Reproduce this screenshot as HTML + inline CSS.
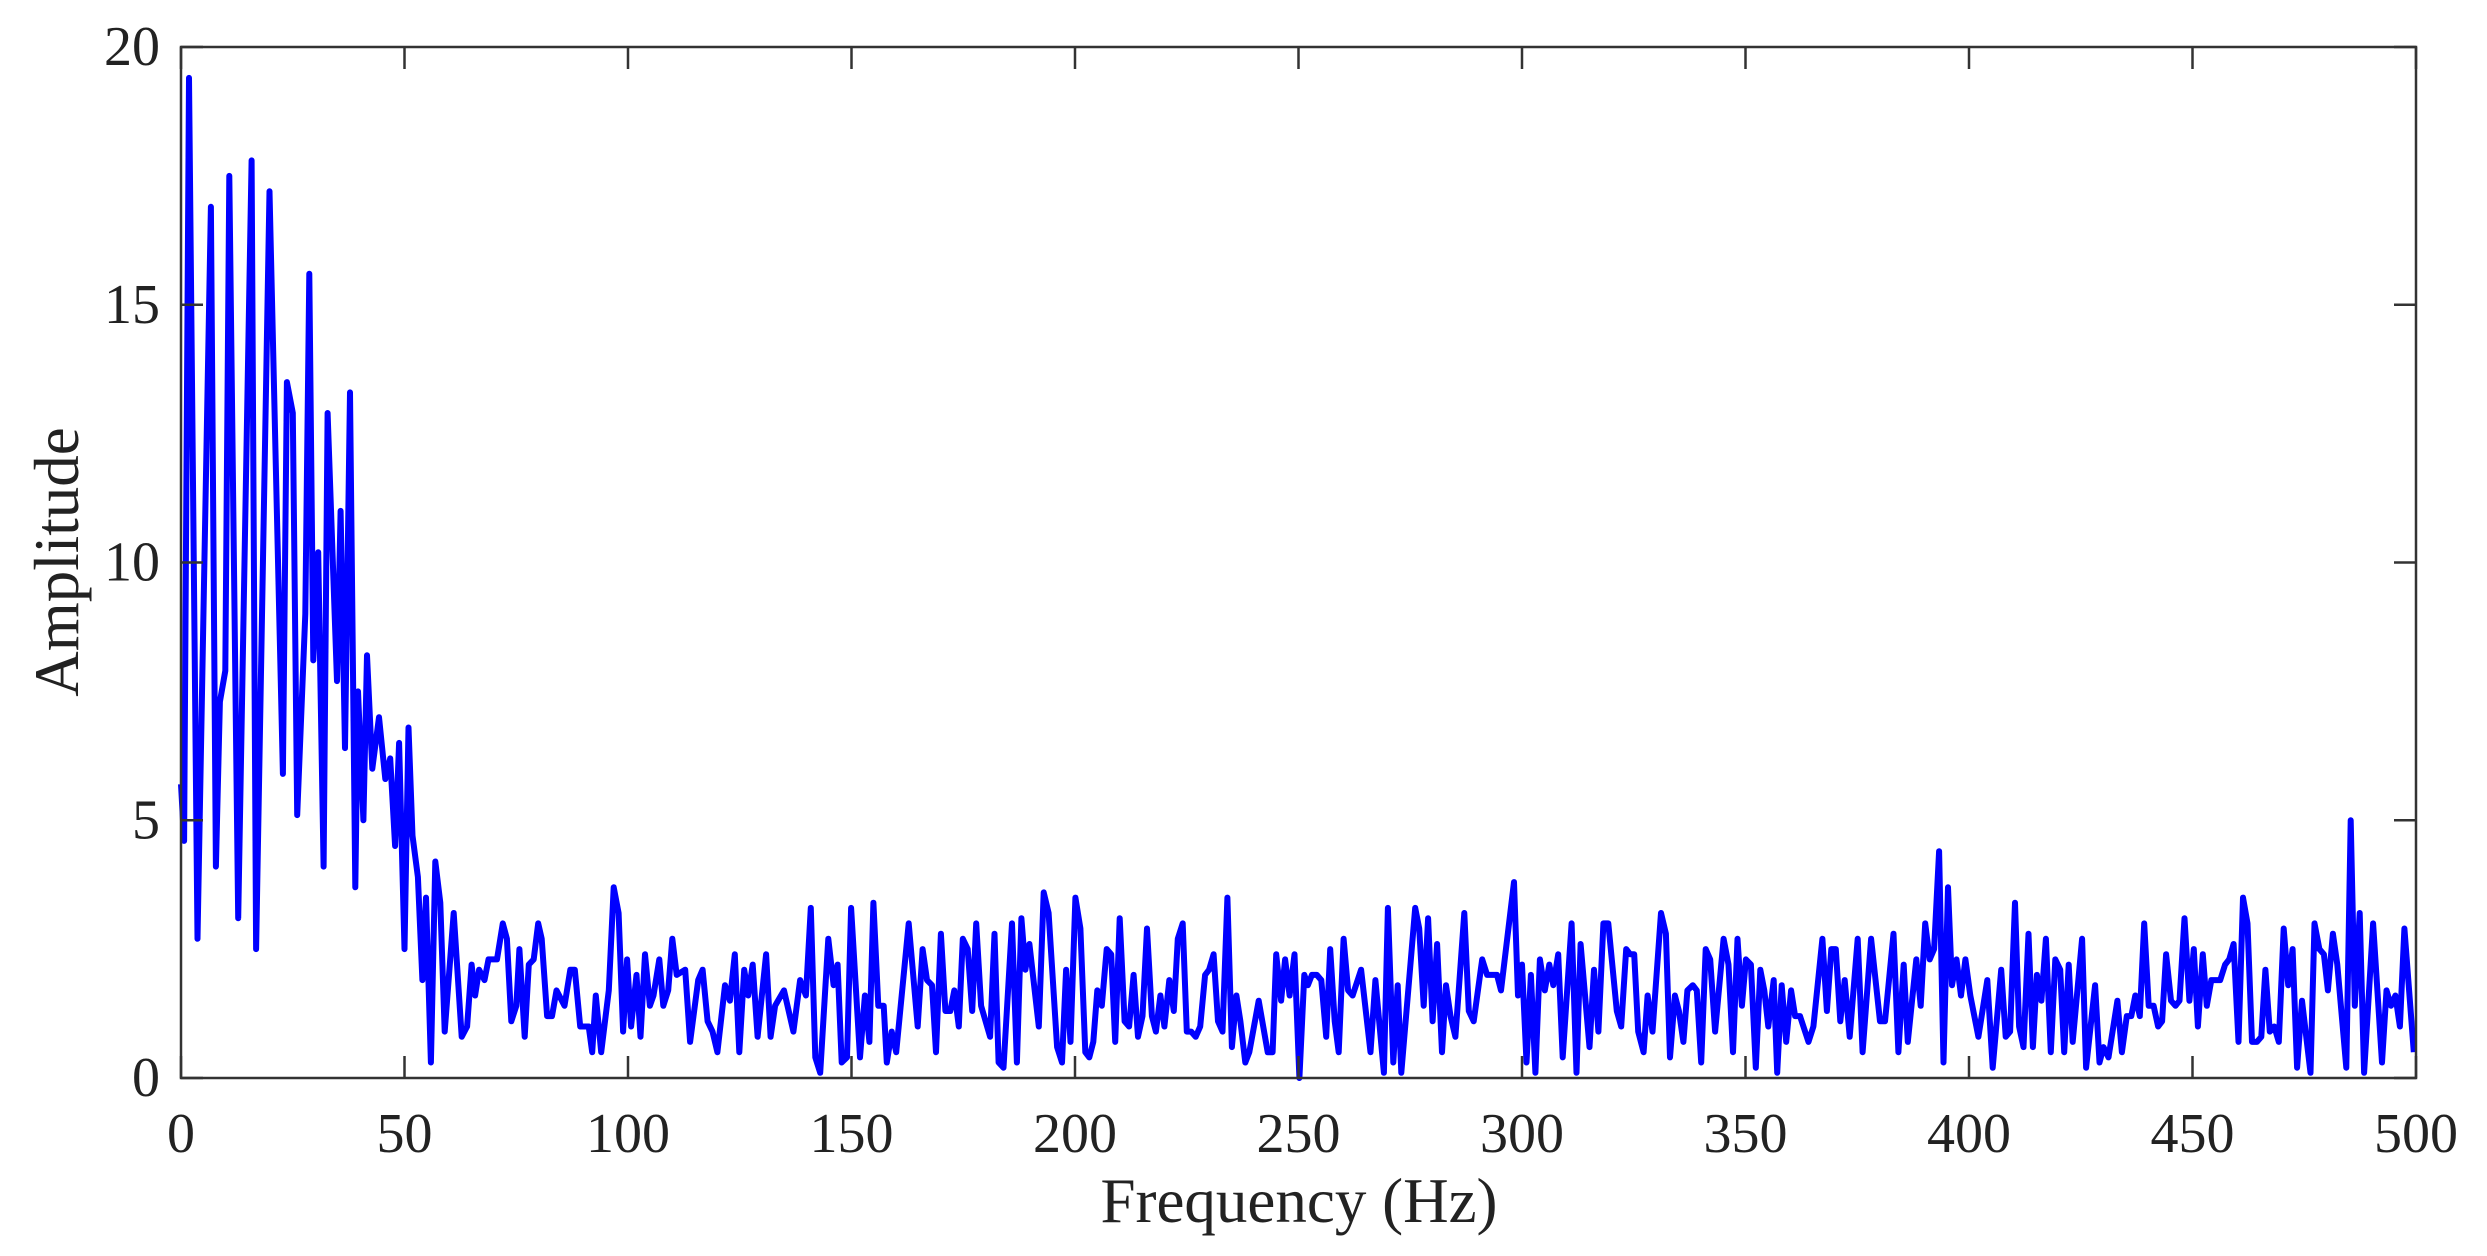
<!DOCTYPE html>
<html><head><meta charset="utf-8"><style>
html,body{margin:0;padding:0;background:#fff;}
svg{display:block;font-family:"Liberation Serif",serif;}
</style></head><body>
<svg id="chart" width="2487" height="1256" viewBox="0 0 2487 1256" xmlns="http://www.w3.org/2000/svg">
<rect x="0" y="0" width="2487" height="1256" fill="#fff"/>
<g id="plot"></g>
<g id="axes"></g>
</svg>
<script>
const xTicks = [0,50,100,150,200,250,300,350,400,450,500];
const yTicks = [0,5,10,15,20];
const freqs = [0,0.7,1.8,3.7,6.7,7.8,8.7,9.9,10.8,12.8,15.8,16.8,19.8,22.8,23.7,25,26,27.8,28.7,29.6,30.7,31.9,32.8,34.9,35.7,36.7,37.8,39,39.6,40.8,41.6,42.8,44.3,45.7,46.8,47.9,48.8,50,50.9,51.8,53,54,54.8,55.9,56.9,58,59,61,62.8,64,65,65.8,66.7,67.9,68.8,70.7,72,72.9,73.9,75,75.7,76.9,77.8,78.9,79.9,80.7,81.9,83,84,85.8,87.1,88.1,89.3,91.2,92,92.8,94,95.7,96.8,97.9,98.9,99.8,100.7,
101.9,102.8,103.8,104.9,105.7,107,107.9,109,109.9,110.9,112.8,113.9,115.7,116.7,117.8,118.9,120,121.7,122.8,123.9,124.9,126,126.9,127.9,129,130.9,131.9,132.9,134.9,137,138.5,139.8,140.9,141.9,143,144.8,146,146.9,147.8,149,149.9,151.9,153,154,154.9,156,157.2,157.9,159,160,162.8,164.8,165.9,166.9,168,168.9,170,171,172.1,173,174,174.9,176,177,177.9,179,181,182,182.9,184,185.9,187,188,188.9,189.8,191.9,193,194.1,196,197.1,198,199,200.1,
201.2,202.3,203.2,204.1,205,206,207.1,208.1,209,210,211.1,212.1,213.1,214.1,215.1,216.1,217.2,218.1,219.1,220,221.1,222.1,223,224.1,225,226,227,228,229.1,230,231,232,233,234.1,235.1,236.1,237,238.1,239,241.1,243.1,244.2,245,246.1,247,248,249.1,250.2,251.3,252.1,253,254.1,255.1,256.2,257.1,258.1,259,260.1,261.1,262.1,264,266.1,267.2,269.1,270,271.2,272.2,273,276.1,277,278,279,280,281,282.1,283,284,285.1,287.1,288.1,289.2,291.1,292.2,294.4,295.3,298.2,299.1,300,
301,302,303,304,305.1,306.1,307,308.1,309.1,311.1,312.2,313.1,315.1,316.1,317.1,318.2,319.3,321.2,322.2,323.3,324.2,325.1,326,327.2,328.1,329.2,331.1,332.2,333.1,334.2,335.1,336.1,337,338.2,339.1,340.1,341.1,342.1,343.2,345.1,346.2,347.2,348.2,349.2,350.1,351.2,352.3,353.3,354.2,355.1,356.3,357.1,358.1,359.1,360.2,361.1,362.2,364.1,365.2,367.2,368.2,369.2,370.2,371.2,372.2,373.3,375.1,376.2,378.1,380.1,381.2,383.1,384.2,385.4,386.3,388.2,389.2,390.2,391.2,392.2,393.3,394.3,395.3,396.2,397.2,398.2,399.2,400.3,
402.1,404.1,405.3,407.2,408.2,409.2,410.3,411.2,412.2,413.3,414.3,415.2,416.2,417.2,418.3,419.3,420.4,421.3,422.3,423.2,425.3,426.2,428.2,429.2,430.1,431.2,433.2,434.2,435.3,436.3,437.2,438.2,439.2,440.2,441.3,442.3,443.2,444.1,445.2,446.2,447.1,448.2,449.3,450.3,451.2,452.3,453.2,454.2,456.2,457.3,458.2,459.2,460.3,461.3,462.3,463.3,464.4,465.4,466.3,467.3,468.3,469.3,470.4,471.4,472.4,473.4,474.5,476.4,477.3,478.4,479.4,480.3,481.4,482.4,484.4,485.4,486.3,487.4,488.4,490.4,492.4,493.4,494.4,495.4,496.4,497.4,499.5];
const amps = [5.7,4.6,19.4,2.7,16.9,4.1,7.3,7.9,17.5,3.1,17.8,2.5,17.2,5.9,13.5,12.9,5.1,9,15.6,8.1,10.2,4.1,12.9,7.7,11,6.4,13.3,3.7,7.5,5,8.2,6,7,5.8,6.2,4.5,6.5,2.5,6.8,4.7,3.9,1.9,3.5,0.3,4.2,3.4,0.9,3.2,0.8,1,2.2,1.6,2.1,1.9,2.3,2.3,3,2.7,1.1,1.4,2.5,0.8,2.2,2.3,3,2.7,1.2,1.2,1.7,1.4,2.1,2.1,1,1,0.5,1.6,0.5,1.7,3.7,3.2,0.9,2.3,1,
2,0.8,2.4,1.4,1.6,2.3,1.4,1.7,2.7,2,2.1,0.7,1.9,2.1,1.1,0.9,0.5,1.8,1.5,2.4,0.5,2.1,1.6,2.2,0.8,2.4,0.8,1.4,1.7,0.9,1.9,1.6,3.3,0.4,0.1,2.7,1.8,2.2,0.3,0.4,3.3,0.4,1.6,0.7,3.4,1.4,1.4,0.3,0.9,0.5,3,1,2.5,1.9,1.8,0.5,2.8,1.3,1.3,1.7,1,2.7,2.5,1.3,3,1.4,0.8,2.8,0.3,0.2,3,0.3,3.1,2.1,2.6,1,3.6,3.2,0.6,0.3,2.1,0.7,3.5,
2.9,0.5,0.4,0.7,1.7,1.4,2.5,2.4,0.7,3.1,1.1,1,2,0.8,1.2,2.9,1.2,0.9,1.6,1,1.9,1.3,2.7,3,0.9,0.9,0.8,1,2,2.1,2.4,1.1,0.9,3.5,0.6,1.6,1.1,0.3,0.5,1.5,0.5,0.5,2.4,1.5,2.3,1.6,2.4,0,2,1.8,2,2,1.9,0.8,2.5,1.1,0.5,2.7,1.7,1.6,2.1,0.5,1.9,0.1,3.3,0.3,1.8,0.1,3.3,2.9,1.4,3.1,1.1,2.6,0.5,1.8,1.2,0.8,3.2,1.3,1.1,2.3,2,2,1.7,3.8,1.6,2.2,
0.3,2,0.1,2.3,1.7,2.2,1.8,2.4,0.4,3,0.1,2.6,0.6,2.1,0.9,3,3,1.3,1,2.5,2.4,2.4,0.9,0.5,1.6,0.9,3.2,2.8,0.4,1.6,1.3,0.7,1.7,1.8,1.7,0.3,2.5,2.3,0.9,2.7,2.2,0.5,2.7,1.4,2.3,2.2,0.2,2.1,1.7,1,1.9,0.1,1.8,0.7,1.7,1.2,1.2,0.7,1,2.7,1.3,2.5,2.5,1.1,1.9,0.8,2.7,0.5,2.7,1.1,1.1,2.8,0.5,2.2,0.7,2.3,1.4,3,2.3,2.5,4.4,0.3,3.7,1.8,2.3,1.6,2.3,1.6,
0.8,1.9,0.2,2.1,0.8,0.9,3.4,1,0.6,2.8,0.6,2,1.5,2.7,0.5,2.3,2.1,0.5,2.2,0.7,2.7,0.2,1.8,0.3,0.6,0.4,1.5,0.5,1.2,1.2,1.6,1.2,3,1.4,1.4,1,1.1,2.4,1.5,1.4,1.5,3.1,1.5,2.5,1,2.4,1.4,1.9,1.9,2.2,2.3,2.6,0.7,3.5,3,0.7,0.7,0.8,2.1,0.9,1,0.7,2.9,1.8,2.5,0.2,1.5,0.1,3,2.5,2.4,1.7,2.8,2.2,0.2,5,1.4,3.2,0.1,3,0.3,1.7,1.4,1.6,1,2.9,0.5];

const NS = 'http://www.w3.org/2000/svg';
const L = 181, R = 2416, T = 47, B = 1078;
const xMin = 0, xMax = 500, yMin = 0, yMax = 20;
function xs(v){ return L + (v - xMin) / (xMax - xMin) * (R - L); }
function ys(v){ return B - (v - yMin) / (yMax - yMin) * (B - T); }

const plot = document.getElementById('plot');
const axes = document.getElementById('axes');

const pts = freqs.map((f, i) => xs(f).toFixed(1) + ',' + ys(amps[i]).toFixed(1)).join(' ');
const line = document.createElementNS(NS, 'polyline');
line.setAttribute('points', pts);
line.setAttribute('fill', 'none');
line.setAttribute('stroke', '#0000ff');
line.setAttribute('stroke-width', '6');
line.setAttribute('stroke-linejoin', 'round');


plot.appendChild(line);

const box = document.createElementNS(NS, 'rect');
box.setAttribute('x', L); box.setAttribute('y', T);
box.setAttribute('width', R - L); box.setAttribute('height', B - T);
box.setAttribute('fill', 'none'); box.setAttribute('stroke', '#333');
box.setAttribute('stroke-width', '2.5');


axes.appendChild(box);

const TL = 22;
function addLine(x1,y1,x2,y2){
  const l = document.createElementNS(NS, 'line');
  l.setAttribute('x1', x1); l.setAttribute('y1', y1);
  l.setAttribute('x2', x2); l.setAttribute('y2', y2);
  l.setAttribute('stroke', '#333'); l.setAttribute('stroke-width', '2.5');
  
  
  axes.appendChild(l);
}
function addText(x, y, s, anchor, name){
  const t = document.createElementNS(NS, 'text');
  t.setAttribute('x', x); t.setAttribute('y', y);
  t.setAttribute('font-size', '56'); t.setAttribute('fill', '#222');
  t.setAttribute('text-anchor', anchor);
  t.setAttribute('dominant-baseline', 'central');
  t.textContent = s;
  
  
  axes.appendChild(t);
}
xTicks.forEach(v => {
  const x = xs(v);
  addLine(x, B, x, B - TL);
  addLine(x, T, x, T + TL);
  addText(x, 1134, String(v), 'middle', 'x-tick-label');
});
yTicks.forEach(v => {
  const y = ys(v);
  addLine(L, y, L + TL, y);
  addLine(R, y, R - TL, y);
  addText(160, y, String(v), 'end', 'y-tick-label');
});
</script>
<svg style="position:absolute;left:0;top:0" width="2487" height="1256">
<text x="1299" y="1222" font-family="Liberation Serif, serif" font-size="63" fill="#222" text-anchor="middle">Frequency (Hz)</text>
<text transform="translate(78,562) rotate(-90)" font-family="Liberation Serif, serif" font-size="63" fill="#222" text-anchor="middle">Amplitude</text>
</svg>
</body></html>
